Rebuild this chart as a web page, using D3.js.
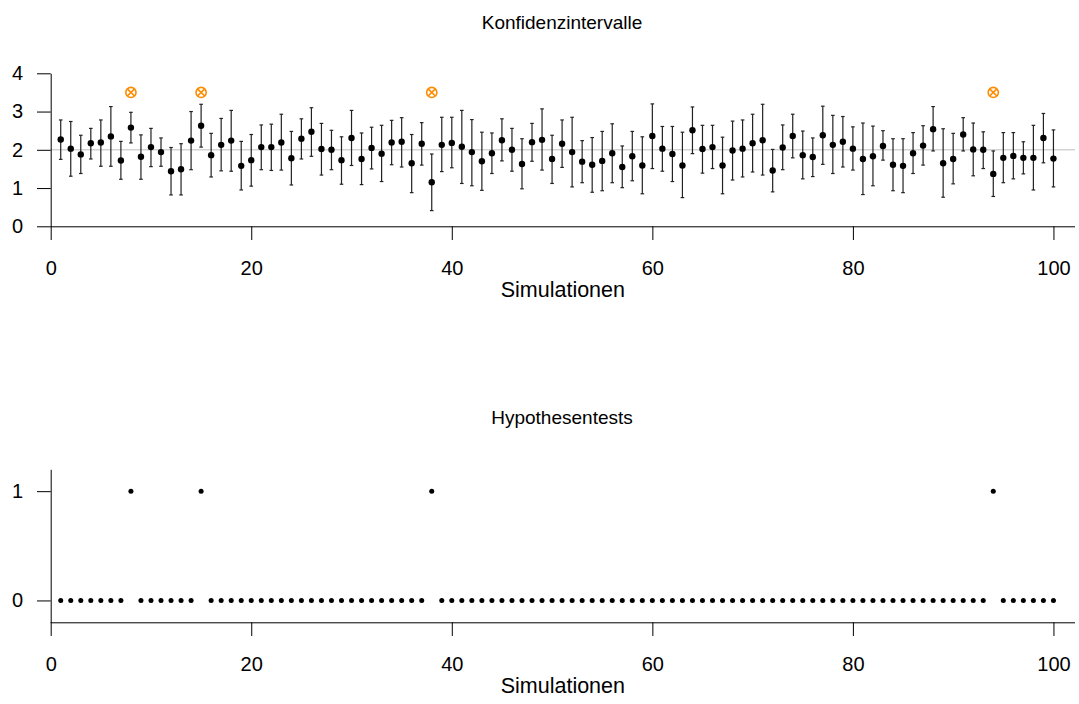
<!DOCTYPE html>
<html>
<head>
<meta charset="utf-8">
<script src="https://cdn.jsdelivr.net/npm/d3@7"></script>
<style>
  body { margin: 0; background: #fff; }
  text { font-family: "Liberation Sans", Arial, Helvetica, sans-serif; fill: #000; }
  .axis path, .axis line { stroke: #000; stroke-width: 1; }
</style>
</head>
<body>
<div id="chart-area"></div>
<script>
// Simulation index 1..100
var sims = d3.range(1, 101);

var means = [2.27,2.03,1.88,2.17,2.19,2.35,1.72,2.58,1.82,2.07,
             1.94,1.44,1.49,2.24,2.63,1.86,2.13,2.24,1.58,1.73,
             2.07,2.07,2.19,1.78,2.29,2.47,2.02,2.00,1.73,2.31,
             1.76,2.05,1.90,2.19,2.21,1.65,2.16,1.15,2.13,2.18,
             2.08,1.94,1.70,1.91,2.25,2.00,1.63,2.20,2.26,1.76,
             2.16,1.94,1.69,1.61,1.71,1.91,1.55,1.83,1.59,2.36,
             2.03,1.89,1.59,2.51,2.02,2.07,1.59,1.98,2.03,2.17,
             2.25,1.46,2.06,2.36,1.86,1.81,2.38,2.13,2.21,2.03,
             1.76,1.83,2.10,1.61,1.58,1.91,2.11,2.54,1.65,1.76,
             2.40,2.01,2.00,1.37,1.79,1.84,1.79,1.79,2.31,1.77];

var upper = [2.78,2.74,2.38,2.56,2.78,3.13,2.22,2.98,2.39,2.56,
             2.31,2.06,2.16,3.00,3.19,2.43,2.82,3.03,2.22,2.40,
             2.65,2.67,2.93,2.48,2.81,3.10,2.69,2.51,2.34,3.03,
             2.44,2.59,2.64,2.77,2.84,2.40,2.71,1.89,2.85,2.85,
             3.03,2.79,2.46,2.44,2.81,2.56,2.29,2.69,3.07,2.38,
             2.78,2.85,2.24,2.32,2.48,2.68,2.10,2.48,2.34,3.20,
             2.61,2.61,2.46,3.12,2.64,2.64,2.33,2.75,2.78,2.93,
             3.19,2.01,2.65,2.93,2.49,2.31,3.14,2.90,2.87,2.60,
             2.70,2.62,2.50,2.29,2.29,2.45,2.63,3.13,2.55,2.43,
             2.84,2.70,2.47,1.97,2.45,2.45,2.21,2.64,2.95,2.52];

var lower = [1.75,1.31,1.38,1.76,1.57,1.57,1.23,2.18,1.23,1.56,
             1.57,0.82,0.82,1.48,2.07,1.29,1.45,1.44,0.95,1.05,
             1.48,1.46,1.47,1.08,1.76,1.83,1.34,1.48,1.10,1.59,
             1.09,1.50,1.17,1.61,1.55,0.88,1.60,0.41,1.43,1.53,
             1.12,1.06,0.94,1.38,1.71,1.44,0.98,1.70,1.47,1.12,
             1.54,1.03,1.14,0.89,0.93,1.14,1.01,1.19,0.85,1.51,
             1.44,1.17,0.75,1.90,1.39,1.51,0.85,1.21,1.29,1.42,
             1.34,0.90,1.48,1.79,1.24,1.30,1.62,1.38,1.55,1.47,
             0.83,1.06,1.73,0.93,0.88,1.38,1.60,1.97,0.76,1.11,
             1.97,1.32,1.51,0.78,1.14,1.24,1.37,0.95,1.66,1.03];

// simulations where the test rejected (interval misses the true value)
var rejected = [8, 15, 38, 94];
var trueValue = 2;
var markerLevel = 3.5;

var xTicks = [0, 20, 40, 60, 80, 100];
var yTicksTop = [0, 1, 2, 3, 4];
var yTicksBottom = [0, 1];

var width = 1079, height = 704;

var svg = d3.select("#chart-area")
    .append("svg")
    .attr("width", width)
    .attr("height", height);

var xScale = d3.scaleLinear()
    .domain([0, 102.15])
    .range([50.7, 1075]);

var tickLen = 13.7;

function drawAxes(g, yScale, yTicks, xLabelY) {
    var y0 = yScale.range()[0];
    // bottom axis
    g.append("g")
        .attr("class", "axis")
        .attr("transform", "translate(0," + y0 + ")")
        .call(d3.axisBottom(xScale).tickValues(xTicks).tickSize(tickLen).tickPadding(21).tickSizeOuter(0))
        .call(a => a.select(".domain").attr("d", "M" + xScale.range()[0] + ",0.5H" + xScale.range()[1]))
        .selectAll("text")
        .style("font-size", "20px");
    // left axis
    g.append("g")
        .attr("class", "axis")
        .attr("transform", "translate(" + xScale.range()[0] + ",0)")
        .call(d3.axisLeft(yScale).tickValues(yTicks).tickSize(tickLen).tickPadding(14).tickSizeOuter(0).tickFormat(d3.format("d")))
        .selectAll("text")
        .style("font-size", "20px");

    g.append("text")
        .attr("x", (xScale.range()[0] + xScale.range()[1]) / 2)
        .attr("y", xLabelY)
        .attr("text-anchor", "middle")
        .style("font-size", "21.5px")
        .text("Simulationen");
}

// ---- Konfidenzintervalle ----
var yTop = d3.scaleLinear()
    .domain([0, 4])
    .range([226.3, 73.3]);

var topPanel = svg.append("g");

topPanel.append("text")
    .attr("x", 562)
    .attr("y", 29)
    .attr("text-anchor", "middle")
    .style("font-size", "19px")
    .text("Konfidenzintervalle");

topPanel.append("line")
    .attr("x1", xScale.range()[0])
    .attr("x2", xScale.range()[1])
    .attr("y1", yTop(trueValue))
    .attr("y2", yTop(trueValue))
    .attr("stroke", "#d3d3d3")
    .attr("stroke-width", 1.5);

drawAxes(topPanel, yTop, yTicksTop, 297);

var bars = topPanel.selectAll(".ci")
    .data(sims)
    .enter()
    .append("g")
    .attr("class", "ci");

var capW = 1.8;
bars.append("line")
    .attr("x1", d => xScale(d))
    .attr("x2", d => xScale(d))
    .attr("y1", (d, i) => yTop(lower[i]))
    .attr("y2", (d, i) => yTop(upper[i]));
bars.append("line")
    .attr("x1", d => xScale(d) - capW)
    .attr("x2", d => xScale(d) + capW)
    .attr("y1", (d, i) => yTop(lower[i]))
    .attr("y2", (d, i) => yTop(lower[i]));
bars.append("line")
    .attr("x1", d => xScale(d) - capW)
    .attr("x2", d => xScale(d) + capW)
    .attr("y1", (d, i) => yTop(upper[i]))
    .attr("y2", (d, i) => yTop(upper[i]));
bars.selectAll("line")
    .attr("stroke", "#222")
    .attr("stroke-width", 1.2);

topPanel.selectAll(".mean")
    .data(sims)
    .enter()
    .append("circle")
    .attr("class", "mean")
    .attr("cx", d => xScale(d))
    .attr("cy", (d, i) => yTop(means[i]))
    .attr("r", 3.2)
    .attr("fill", "#000");

// orange circle-cross markers for rejected simulations
var marks = topPanel.selectAll(".rej")
    .data(rejected)
    .enter()
    .append("g")
    .attr("class", "rej")
    .attr("transform", d => "translate(" + xScale(d) + "," + yTop(markerLevel) + ")")
    .attr("stroke", "#ff8c00")
    .attr("stroke-width", 1.6)
    .attr("fill", "none");
marks.append("circle").attr("r", 5.1);
marks.append("path").attr("d", "M-3.6,-3.6L3.6,3.6M-3.6,3.6L3.6,-3.6");

// ---- Hypothesentests ----
var hyp = sims.map(d => rejected.indexOf(d) >= 0 ? 1 : 0);

var yBottom = d3.scaleLinear()
    .domain([-0.2, 1.2])
    .range([622.3, 469.3]);

var bottomPanel = svg.append("g");

bottomPanel.append("text")
    .attr("x", 562)
    .attr("y", 424)
    .attr("text-anchor", "middle")
    .style("font-size", "19px")
    .text("Hypothesentests");

drawAxes(bottomPanel, yBottom, yTicksBottom, 693);

bottomPanel.selectAll(".hyp")
    .data(sims)
    .enter()
    .append("circle")
    .attr("class", "hyp")
    .attr("cx", d => xScale(d))
    .attr("cy", (d, i) => yBottom(hyp[i]))
    .attr("r", 2.5)
    .attr("fill", "#000");
</script>
</body>
</html>
